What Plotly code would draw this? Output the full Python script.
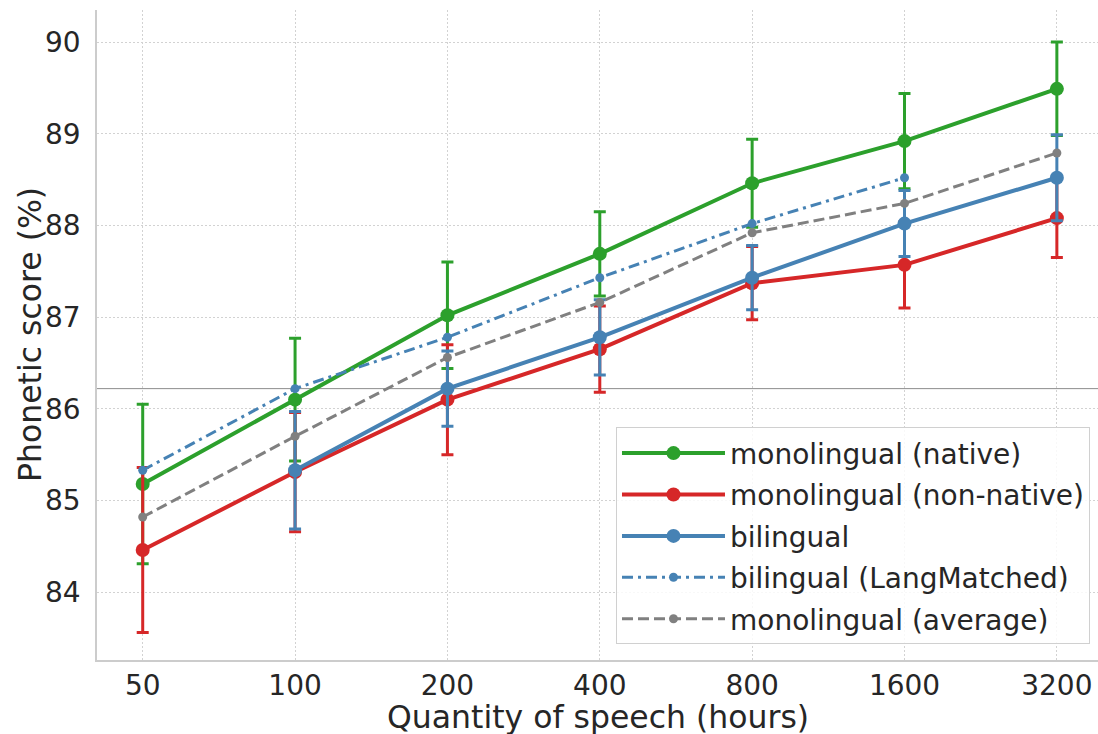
import plotly.graph_objects as go

hours = ["50", "100", "200", "400", "800", "1600", "3200"]

native = [85.18, 86.10, 87.02, 87.69, 88.46, 88.92, 89.49]
native_err = [0.87, 0.67, 0.58, 0.46, 0.48, 0.52, 0.51]

nonnative = [84.46, 85.31, 86.10, 86.65, 87.37, 87.57, 88.08]
nonnative_err = [0.90, 0.65, 0.60, 0.47, 0.40, 0.47, 0.43]

bilingual = [None, 85.33, 86.22, 86.78, 87.43, 88.02, 88.52]
bilingual_err = [None, 0.64, 0.41, 0.41, 0.35, 0.36, 0.47]

langmatched = [85.33, 86.22, 86.78, 87.43, 88.02, 88.52, None]

average = [84.82, 85.70, 86.56, 87.16, 87.92, 88.24, 88.79]

ref_line = 86.22

x_title = "Quantity of speech (hours)"
y_title = "Phonetic score (%)"

GREEN = "#2ca02c"
RED = "#d62728"
BLUE = "#4682b4"
GRAY = "#808080"
FONT = "DejaVu Sans"
TXT = "#262626"

fig = go.Figure()

def main_trace(name, y, err, color, group):
    fig.add_trace(go.Scatter(
        x=hours, y=y, name=name, mode="lines+markers",
        line=dict(color=color, width=4),
        marker=dict(color=color, size=14),
        error_y=dict(type="data", array=err, visible=True, color=color,
                     thickness=3, width=6),
        legendgroup=group,
    ))

main_trace("monolingual (native)", native, native_err, GREEN, "a")
main_trace("monolingual (non-native)", nonnative, nonnative_err, RED, "b")
main_trace("bilingual", bilingual, bilingual_err, BLUE, "c")

fig.add_trace(go.Scatter(
    x=hours, y=langmatched, name="bilingual (LangMatched)", mode="lines+markers",
    line=dict(color=BLUE, width=3, dash="11px,5px,3px,5px"),
    marker=dict(color=BLUE, size=9), legendgroup="d",
))
fig.add_trace(go.Scatter(
    x=hours, y=average, name="monolingual (average)", mode="lines+markers",
    line=dict(color=GRAY, width=3, dash="11px,5px"),
    marker=dict(color=GRAY, size=9), legendgroup="e",
))

fig.add_hline(y=ref_line, line=dict(color="#8c8c8c", width=1), layer="below")

fig.update_layout(
    width=1098, height=734,
    margin=dict(l=97, r=0, t=10, b=74),
    paper_bgcolor="white", plot_bgcolor="white",
    font=dict(family=FONT, size=28, color=TXT),
    showlegend=True,
    legend=dict(
        x=0.992, y=0.024, xanchor="right", yanchor="bottom",
        bgcolor="rgba(255,255,255,0.85)", bordercolor="#d0d0d0", borderwidth=1,
        font=dict(family=FONT, size=28, color=TXT),
        traceorder="grouped", tracegroupgap=2, itemwidth=103,
    ),
    annotations=[
        dict(text=x_title, xref="paper", yref="paper", x=0.5, y=-0.0877,
             xanchor="center", yanchor="middle", showarrow=False,
             font=dict(family=FONT, size=31.5, color=TXT)),
        dict(text=y_title, xref="paper", yref="paper", x=-0.0669, y=0.5,
             xanchor="center", yanchor="middle", textangle=-90, showarrow=False,
             font=dict(family=FONT, size=31.5, color=TXT)),
    ],
)

fig.update_xaxes(
    type="category", range=[-0.3, 6.27], automargin=False,
    showline=True, linecolor="#cccccc", linewidth=1.5,
    showgrid=True, gridcolor="#d2d2d2", griddash="2px,2px", gridwidth=1,
    ticks="", ticklabelstandoff=0, zeroline=False,
)
fig.update_yaxes(
    range=[83.26, 90.35], tickvals=[84, 85, 86, 87, 88, 89, 90], automargin=False,
    showline=True, linecolor="#cccccc", linewidth=1.5,
    showgrid=True, gridcolor="#d2d2d2", griddash="2px,2px", gridwidth=1,
    ticks="", ticklabelstandoff=9, zeroline=False,
)

fig.write_html("out.html", config={"displayModeBar": False},
               post_script="document.body.style.margin='0px';")
